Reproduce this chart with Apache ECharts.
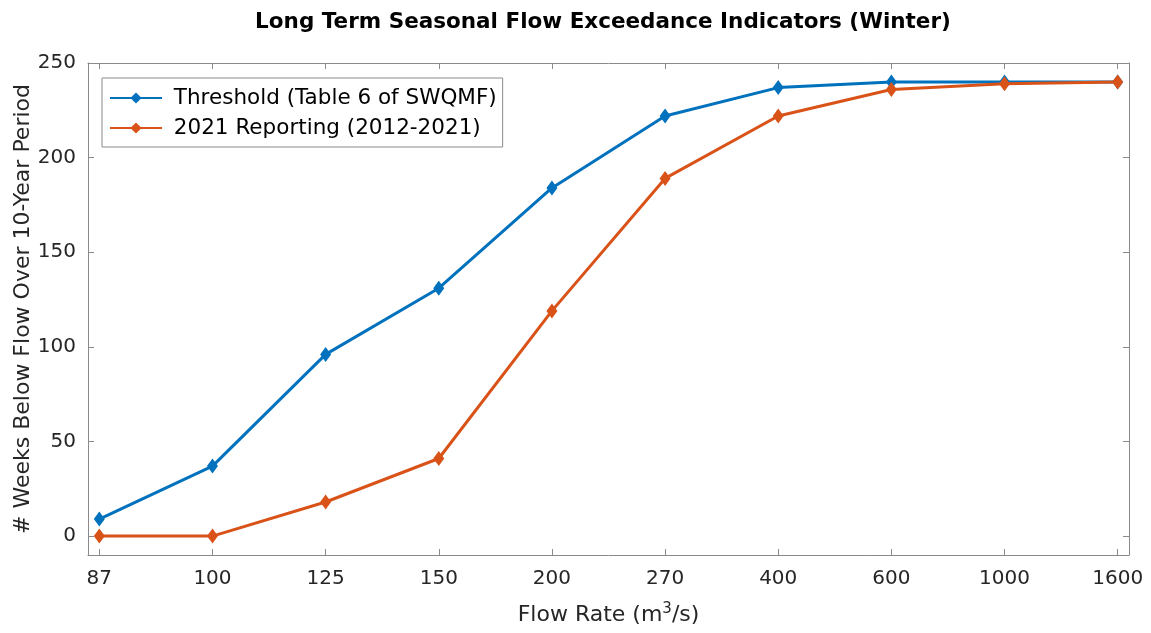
<!DOCTYPE html>
<html><head><meta charset="utf-8">
<script src="https://cdn.jsdelivr.net/npm/echarts@6/dist/echarts.min.js"></script>
<style>html,body{margin:0;padding:0;background:#fff}#c{width:1151px;height:633px}</style>
</head><body><div id="c"></div>
<script>
const categories = ['87','100','125','150','200','270','400','600','1000','1600'];
const thresholdValues = [9, 37, 96, 131, 184, 222, 237, 240, 240, 240];
const reportingValues = [0, 0, 18, 41, 119, 189, 222, 236, 239, 240];
const yTicks = [0, 50, 100, 150, 200, 250];
const seriesNames = ['Threshold (Table 6 of SWQMF)', '2021 Reporting (2012-2021)'];

const idx = categories.map((c, i) => i);
const font = 'DejaVu Sans, Liberation Sans, Arial, sans-serif';
const axisCol = '#8a8a8a';
const txtCol = '#262626';

const chart = echarts.init(document.getElementById('c'));
const baseX = {
  type: 'value', min: -0.1, max: categories.length - 0.9,
  splitLine: {show: false},
  axisLine: {show: true, onZero: false, lineStyle: {color: axisCol, width: 1}},
  axisTick: {show: true, inside: true, length: 6, customValues: idx, lineStyle: {color: axisCol}},
  axisLabel: {show: false}
};
const baseY = {
  type: 'value', min: -10, max: 250,
  splitLine: {show: false},
  axisLine: {show: true, onZero: false, lineStyle: {color: axisCol, width: 1}},
  axisTick: {show: true, inside: true, length: 6, customValues: yTicks, lineStyle: {color: axisCol}},
  axisLabel: {show: false}
};
chart.setOption({
  animation: false,
  backgroundColor: '#fff',
  title: {
    text: 'Long Term Seasonal Flow Exceedance Indicators (Winter)',
    left: 598, top: 6, textAlign: 'center',
    textStyle: {fontFamily: font, fontSize: 21.5, fontWeight: 'bold', color: '#000'}
  },
  grid: {left: 88, right: 22, top: 63, bottom: 78, containLabel: false, outerBoundsMode: 'none'},
  legend: {
    orient: 'vertical', left: 102, top: 78,
    data: seriesNames,
    itemWidth: 52, itemHeight: 14, itemGap: 8,
    padding: [9, 6, 8, 7],
    formatter: n => ' ' + n,
    borderColor: '#8a8a8a', borderWidth: 1, backgroundColor: '#fff',
    textStyle: {fontFamily: font, fontSize: 21.5, color: '#000'}
  },
  xAxis: [
    Object.assign({}, baseX, {
      position: 'bottom',
      axisLabel: {show: true, customValues: idx, margin: 14,
        formatter: v => categories[Math.round(v)],
        fontFamily: font, fontSize: 20, color: txtCol},
      name: '{a|Flow Rate (m}{s|3}{a|/s)}', nameLocation: 'middle', nameGap: 47,
      nameMoveOverlap: false,
      nameTextStyle: {rich: {
        a: {fontFamily: font, fontSize: 22, color: txtCol},
        s: {fontFamily: font, fontSize: 15, color: txtCol, padding: [0, 0, 11, 0]}
      }}
    }),
    Object.assign({}, baseX, {position: 'top'})
  ],
  yAxis: [
    Object.assign({}, baseY, {
      position: 'left',
      axisLabel: {show: true, customValues: yTicks, margin: 12,
        fontFamily: font, fontSize: 20, color: txtCol},
      name: '# Weeks Below Flow Over 10-Year Period', nameLocation: 'middle', nameGap: 54,
      nameMoveOverlap: false,
      nameTextStyle: {fontFamily: font, fontSize: 22, color: txtCol}
    }),
    Object.assign({}, baseY, {position: 'right'})
  ],
  series: [
    {name: seriesNames[0], type: 'line', xAxisIndex: 0, yAxisIndex: 0,
     data: thresholdValues.map((v, i) => [i, v]),
     symbol: 'diamond', symbolSize: [11, 15], color: '#0072BD',
     lineStyle: {width: 3}, z: 3},
    {name: seriesNames[1], type: 'line', xAxisIndex: 0, yAxisIndex: 0,
     data: reportingValues.map((v, i) => [i, v]),
     symbol: 'diamond', symbolSize: [11, 15], color: '#D95319',
     lineStyle: {width: 3}, z: 4}
  ]
});
</script></body></html>
